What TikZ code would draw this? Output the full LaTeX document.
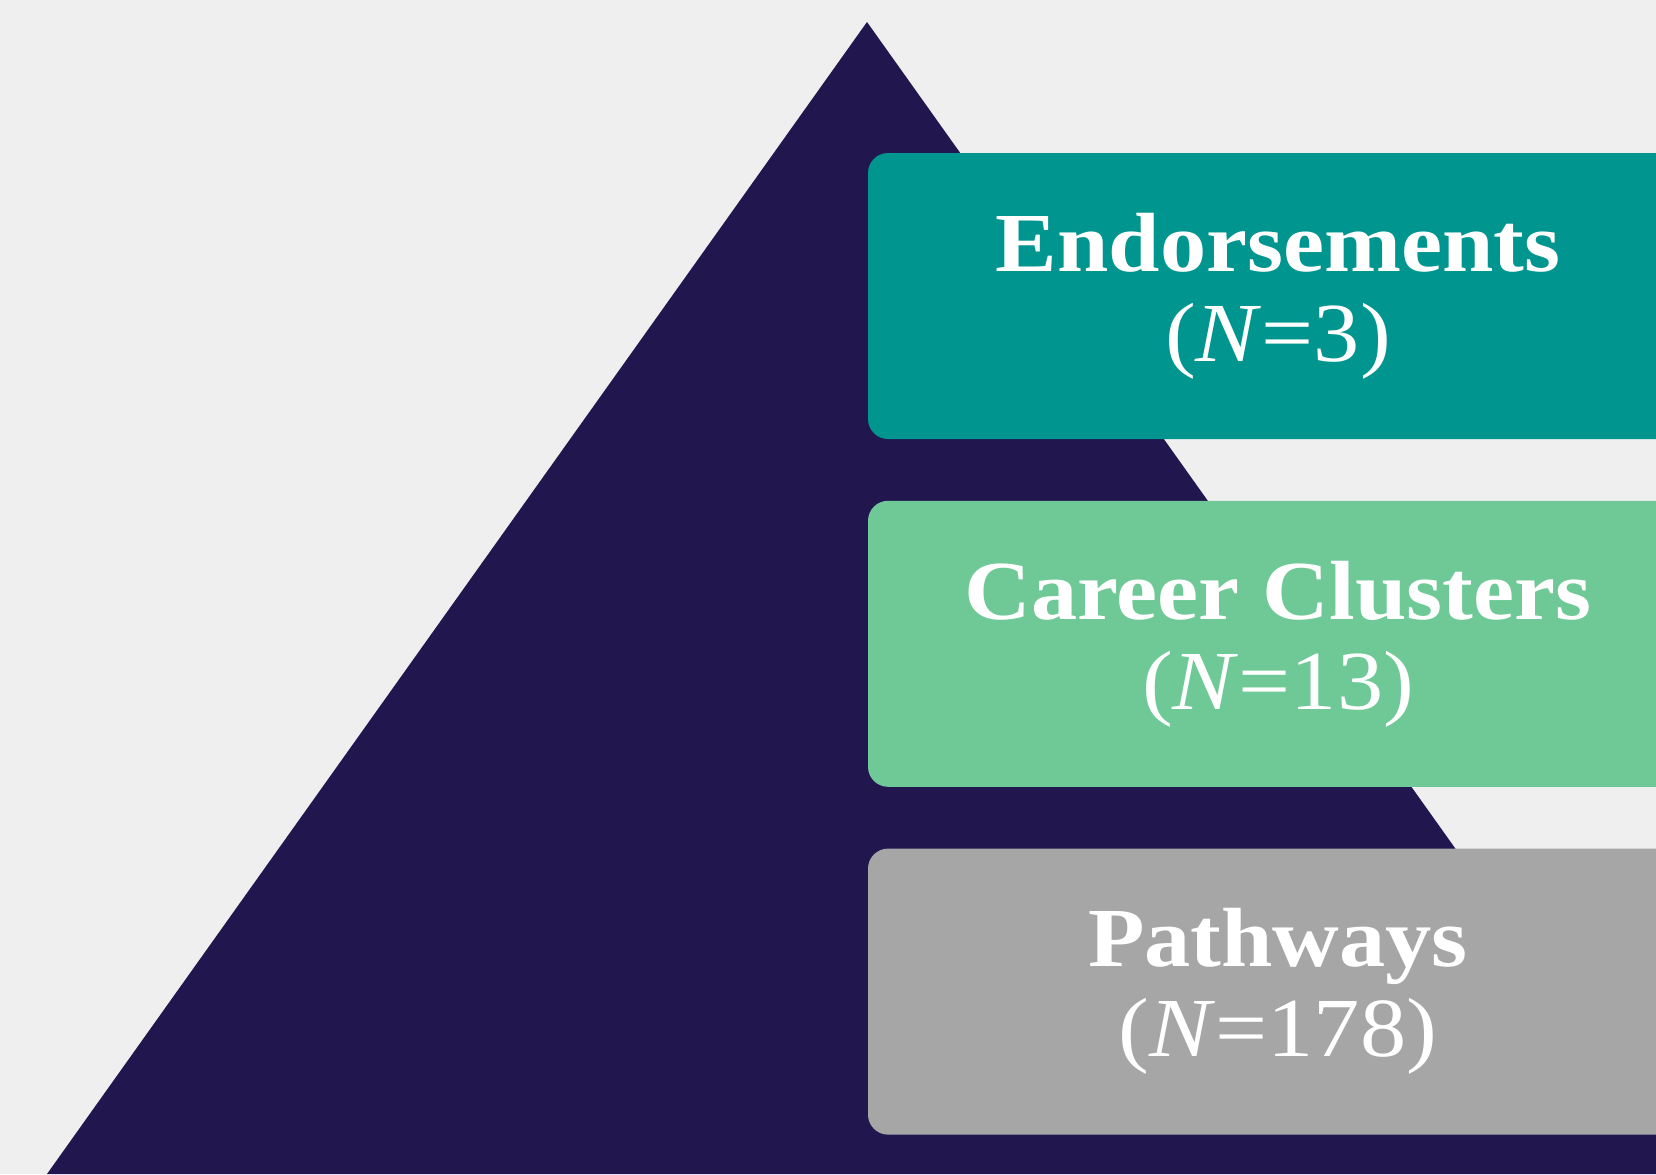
\documentclass[tikz,border=0pt]{standalone}
\usepackage{fontspec}
\setmainfont{Liberation Serif}
\newfontfamily\tierfont[FakeStretch=1.1]{Liberation Serif}
\usetikzlibrary{positioning}
\definecolor{pagegray}{RGB}{239,239,239}
\definecolor{pyramidnavy}{RGB}{33,23,78}
\definecolor{tierteal}{RGB}{0,149,143}
\definecolor{tiergreen}{RGB}{111,201,151}
\definecolor{tiergray}{RGB}{166,166,166}

\begin{document}
\begin{tikzpicture}[x=0.5pt, y=-0.5pt,
    tier/.style={rectangle, rounded corners=10pt, inner sep=0pt,
      minimum width=410pt, minimum height=143pt,
      text=white, align=center,
      font=\tierfont\bfseries\fontsize{42}{45}\selectfont}]
        \fill [pagegray] (0,0) rectangle (1656,1174);
        \useasboundingbox (0,0) rectangle (1656,1174);
        \clip (0,0) rectangle (1656,1174);
        %
        \fill [pyramidnavy] (867,22) -- (1687,1174) -- (47,1174) -- cycle;
        %
        \node [tier, fill=tierteal] (endorse) at (1278,296)
          {Endorsements\\{\mdseries(\textit{N}=3)}};
        \node [tier, fill=tiergreen, below=30.5pt of endorse] (cluster)
          {Career Clusters\\{\mdseries(\textit{N}=13)}};
        \node [tier, fill=tiergray, below=30.5pt of cluster] (pathway)
          {Pathways\\{\mdseries(\textit{N}=178)}};
\end{tikzpicture}
\end{document}
